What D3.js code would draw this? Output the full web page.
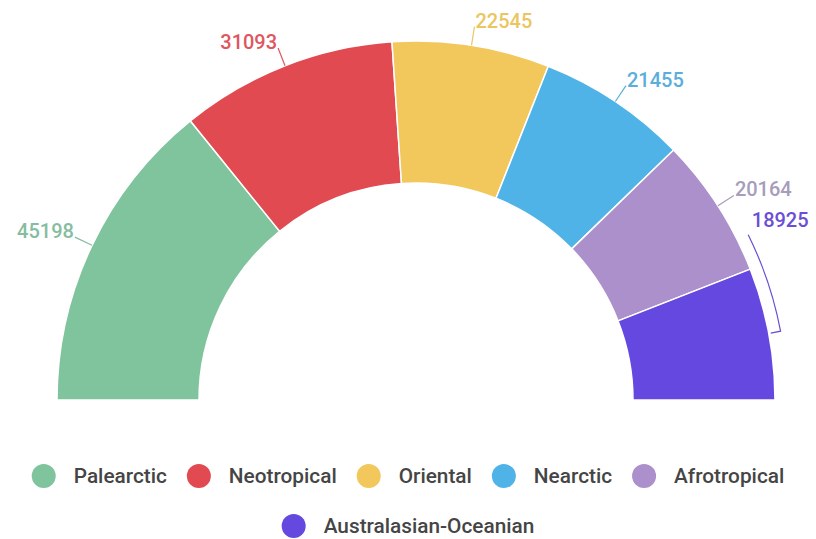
<!DOCTYPE html>
<html><head><meta charset="utf-8">
<script src="https://cdn.jsdelivr.net/npm/d3@7/dist/d3.min.js"></script>
<style>html,body{margin:0;padding:0;background:#fff;}svg{display:block;}</style>
</head><body>
<svg id="chart" width="816" height="539"></svg>
<script>
const categories = ["Palearctic","Neotropical","Oriental","Nearctic","Afrotropical","Australasian-Oceanian"];
const values = [45198,31093,22545,21455,20164,18925];
const colors = ["#80c49d","#e04a50","#f2c75c","#4fb3e7","#ab90cb","#6548df"];
const labelColors = ["#86bda0","#e05560","#ebc660","#5aaedc","#a69cbc","#6a4fd6"];

const W = 816, H = 539;
const cx = 416, cy = 400, rOuter = 359, rInner = 217;
const svg = d3.select("#chart");
const g = svg.append("g").attr("transform",`translate(${cx},${cy})`);

const data = categories.map((c,i)=>({name:c, value:values[i], color:colors[i], lc:labelColors[i]}));
const pie = d3.pie().value(d=>d.value).sort(null).startAngle(-Math.PI/2).endAngle(Math.PI/2);
const arcs = pie(data);
const arc = d3.arc().innerRadius(rInner).outerRadius(rOuter);

g.selectAll("path.slice").data(arcs).enter().append("path")
  .attr("class","slice").attr("d",arc)
  .attr("fill",d=>d.data.color).attr("stroke","#fff").attr("stroke-width",1.5);

const pt = (a,r)=>[r*Math.sin(a), -r*Math.cos(a)];
const fontSpec = {family:"Roboto, sans-serif", size:20, weight:500};

arcs.forEach((d,i)=>{
  const mid = (d.startAngle+d.endAngle)/2;
  const right = mid > 0;
  const lbl = g.append("text").text(d.data.value)
    .attr("font-family",fontSpec.family).attr("font-size",fontSpec.size)
    .attr("font-weight",fontSpec.weight).attr("fill",d.data.lc)
    .attr("text-anchor", right ? "start" : "end");
  const w = lbl.node().getComputedTextLength();
  let p0 = pt(mid, rOuter), p1 = pt(mid, rOuter+19);
  let tx = p1[0] + (right?1:-1), ty = p1[1] + 1;
  if (right && cx + p1[0] + w > W - 4) {
    let a = mid;
    while (a > 0 && cx + pt(a, rOuter+19)[0] + w > W - 4) a -= 0.005;
    const rr = rOuter + 12;
    const pa = pt(a, rOuter+16);
    const pm = pt(mid, rr);
    const arcPath = d3.path();
    arcPath.moveTo(p0[0]+2*Math.sin(mid), p0[1]-2*Math.cos(mid));
    arcPath.lineTo(pm[0], pm[1]);
    arcPath.arc(0,0,rr, mid-Math.PI/2, a-Math.PI/2, true);
    g.append("path").attr("d",arcPath.toString()).attr("fill","none")
      .attr("stroke",d.data.lc).attr("stroke-width",1.2);
    tx = pa[0]; ty = pa[1] - 6;
  } else {
    g.append("line").attr("x1",p0[0]).attr("y1",p0[1]).attr("x2",p1[0]).attr("y2",p1[1])
      .attr("stroke",d.data.lc).attr("stroke-width",1.2);
  }
  lbl.attr("x",tx).attr("y",ty);
});

// Legend
const legend = svg.append("g");
const lr = 12, gapText = 18, gapItem = 20, rowY = [476, 526], maxW = 780;
const items = data.map(d=>{
  const gi = legend.append("g");
  gi.append("circle").attr("r",lr).attr("cx",lr).attr("cy",0).attr("fill",d.color);
  const t = gi.append("text").text(d.name).attr("x",2*lr+gapText).attr("y",7)
    .attr("font-family","Roboto, sans-serif").attr("font-size",20.8).attr("font-weight",500)
    .attr("fill","#454545");
  const w = 2*lr+gapText+t.node().getComputedTextLength();
  return {gi,w};
});
let rows=[[]], cur=0;
items.forEach(it=>{
  const row = rows[rows.length-1];
  const add = (row.length?gapItem:0)+it.w;
  if (row.length && cur+add > maxW){ rows.push([it]); cur=it.w; }
  else { row.push(it); cur+=add; }
});
rows.forEach((row,ri)=>{
  const tot = row.reduce((s,it)=>s+it.w,0)+gapItem*(row.length-1);
  let x = 408 - tot/2;
  row.forEach(it=>{ it.gi.attr("transform",`translate(${x},${rowY[ri]})`); x += it.w+gapItem; });
});
</script>
</body></html>
